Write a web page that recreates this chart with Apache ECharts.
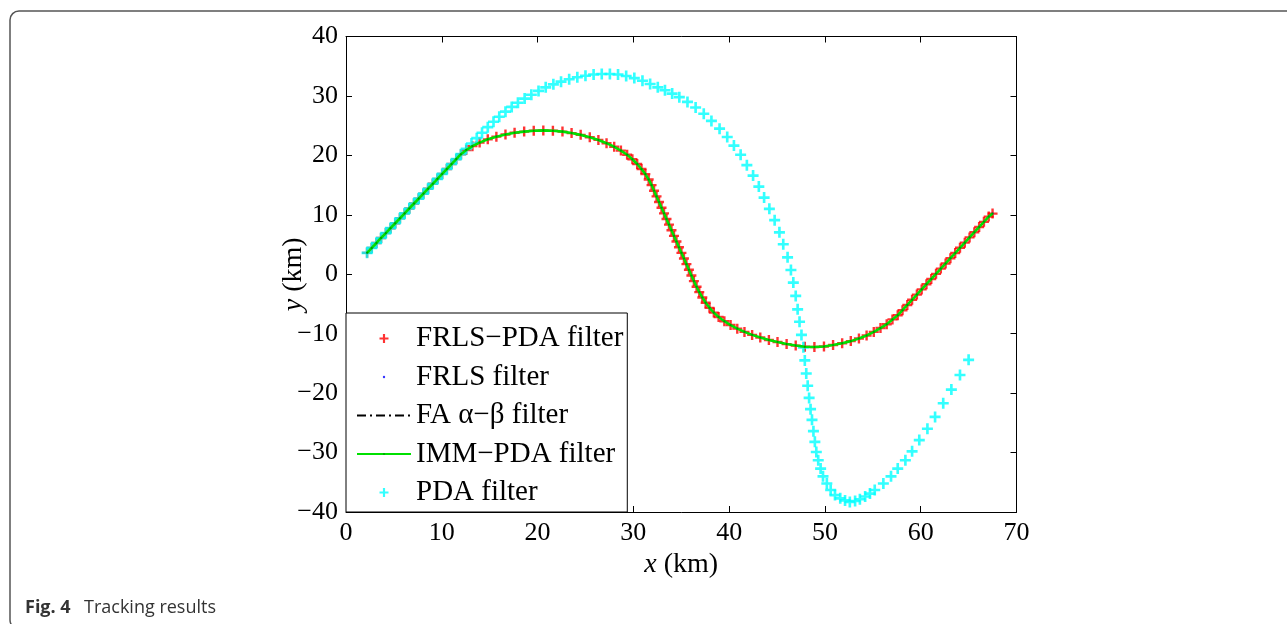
<!DOCTYPE html>
<html><head><meta charset="utf-8">
<script src="https://cdn.jsdelivr.net/npm/echarts@6/dist/echarts.min.js"></script>
<style>html,body{margin:0;padding:0;background:#fff}#c{width:1287px;height:624px}</style>
</head><body><div id="c"></div>
<script>
// ---- data (km) ----
const xTickLabels = ['0','10','20','30','40','50','60','70'];
const yTickLabels = ['\u221240','\u221230','\u221220','\u221210','0','10','20','30','40'];

// common straight leg shared by all estimates
const commonX = [2.2,2.69,3.18,3.66,4.16,4.65,5.14,5.63,6.12,6.61,7.1,7.59,8.08,8.57,9.06,9.55,10.04,10.53,11.02,11.51,12.0];
const commonY = [3.6,4.43,5.26,6.1,6.92,7.75,8.58,9.41,10.24,11.07,11.9,12.73,13.56,14.39,15.22,16.05,16.88,17.71,18.54,19.37,20.2];

// FRLS-PDA / FRLS / FA alpha-beta / IMM-PDA (overlapping) track after x=12
const trackX = [12.55,13.2,13.95,14.8,15.7,16.65,17.6,18.6,19.6,20.6,21.6,22.6,23.55,24.5,25.45,26.35,27.2,28.0,28.7,29.35,29.9,30.4,30.85,31.25,31.6,31.9,32.16,32.42,32.68,32.94,33.2,33.46,33.72,33.98,34.24,34.5,34.76,35.02,35.28,35.54,35.8,36.06,36.32,36.6,36.88,37.2,37.55,37.95,38.4,38.9,39.5,40.15,40.85,41.6,42.4,43.25,44.15,45.05,46.0,46.95,47.9,48.9,49.9,50.85,51.8,52.7,53.55,54.35,55.1,55.8,56.45,57.05,57.6,58.1,58.6,59.1,59.6,60.1,60.6,61.1,61.6,62.1,62.6,63.1,63.6,64.1,64.6,65.1,65.6,66.1,66.6,67.1,67.5];
const trackY = [20.9,21.55,22.15,22.7,23.15,23.5,23.8,24.0,24.15,24.2,24.15,24.0,23.75,23.45,23.05,22.6,22.05,21.45,20.8,20.1,19.35,18.55,17.7,16.85,15.95,15.0,14.05,13.1,12.15,11.2,10.25,9.3,8.35,7.4,6.45,5.5,4.55,3.6,2.65,1.7,0.75,-0.2,-1.15,-2.1,-3.0,-3.9,-4.8,-5.65,-6.45,-7.2,-7.9,-8.55,-9.15,-9.7,-10.2,-10.65,-11.05,-11.4,-11.75,-12.0,-12.2,-12.25,-12.15,-11.9,-11.6,-11.25,-10.8,-10.3,-9.7,-9.05,-8.4,-7.6,-6.9,-6.05,-5.17,-4.3,-3.42,-2.55,-1.67,-0.8,0.07,0.95,1.82,2.7,3.57,4.45,5.32,6.2,7.07,7.95,8.82,9.7,10.2];

// PDA filter after x=12
const pdaX = [12.55,13.1,13.65,14.2,14.8,15.4,16.0,16.65,17.3,17.95,18.65,19.35,20.1,20.85,21.65,22.45,23.3,24.15,25.0,25.85,26.7,27.55,28.4,29.25,30.1,30.95,31.75,32.55,33.3,34.05,34.8,35.65,36.5,37.35,38.15,39.0,39.8,40.5,41.2,41.85,42.5,43.1,43.65,44.2,44.75,45.25,45.65,46.1,46.45,46.7,46.95,47.15,47.35,47.55,47.75,47.9,48.05,48.2,48.35,48.5,48.65,48.8,48.95,49.1,49.3,49.55,49.8,50.2,50.6,51.05,51.6,52.1,52.6,53.15,53.65,54.2,54.7,55.2,56.1,56.9,57.6,58.4,59.1,59.85,60.7,61.5,62.35,63.2,64.1,65.0];
const pdaY = [21.1,22.0,22.9,23.8,24.75,25.65,26.5,27.35,28.15,28.85,29.55,30.2,30.85,31.45,31.95,32.4,32.8,33.15,33.4,33.6,33.7,33.7,33.6,33.35,33.0,32.55,32.0,31.45,30.95,30.4,29.8,29.0,28.05,27.0,25.8,24.5,23.1,21.65,20.1,18.35,16.6,14.75,12.9,11.0,9.1,7.05,5.05,2.85,0.72,-1.4,-3.65,-5.9,-8.0,-10.2,-12.3,-14.5,-16.7,-18.75,-20.8,-22.7,-24.5,-26.4,-28.2,-29.9,-31.3,-32.7,-34.0,-35.2,-36.3,-37.15,-37.7,-38.05,-38.3,-38.15,-37.85,-37.4,-36.9,-36.3,-35.2,-34.0,-32.7,-31.3,-29.8,-27.9,-26.0,-24.0,-21.7,-19.4,-16.95,-14.4];

const seriesNames = ['FRLS\u2212PDA filter','FRLS filter','FA \u03b1\u2212\u03b2 filter','IMM\u2212PDA filter','PDA filter'];

function pairs(xs, ys){ return xs.map((x,i)=>[x, ys[i]]); }
const trackData = pairs(commonX.concat(trackX), commonY.concat(trackY));
const pdaData = pairs(commonX.concat(pdaX), commonY.concat(pdaY));

const serif = '"Liberation Serif","Times New Roman",serif';
const plus = 'path://M3.8,0h2.4v3.8h3.8v2.4h-3.8v3.8h-2.4v-3.8h-3.8v-2.4h3.8z';
const dot = 'path://M0,0M10,10M3.7,5a1.3,1.3 0 1,0 2.6,0a1.3,1.3 0 1,0 -2.6,0z';

const chart = echarts.init(document.getElementById('c'), null, {renderer:'canvas'});
const tickStyle = {color:'#000', width:1};
const labelStyle = {fontFamily: serif, fontSize: 26, color:'#000'};
chart.setOption({
  animation:false,
  backgroundColor:'#fff',
  grid:{left:346, right:270.5, top:36.5, bottom:112},
  xAxis:[{
    type:'value', min:0, max:70, interval:10, position:'bottom',
    axisLine:{show:true, onZero:false, lineStyle:tickStyle},
    axisTick:{show:true, inside:true, length:6, lineStyle:tickStyle},
    splitLine:{show:false},
    axisLabel:Object.assign({margin:8, formatter:(v)=>xTickLabels[Math.round(v/10)]}, labelStyle),
    name:'{i|x} (km)', nameLocation:'middle', nameGap:38,
    nameTextStyle:{fontFamily:serif, fontSize:28, color:'#000', rich:{i:{fontFamily:serif, fontSize:28, fontStyle:'italic', color:'#000'}}}
  },{
    type:'value', min:0, max:70, interval:10, position:'top',
    axisLine:{show:true, onZero:false, lineStyle:tickStyle},
    axisTick:{show:true, inside:true, length:6, lineStyle:tickStyle},
    splitLine:{show:false}, axisLabel:{show:false}
  }],
  yAxis:[{
    type:'value', min:-40, max:40, interval:10, position:'left',
    axisLine:{show:true, onZero:false, lineStyle:tickStyle},
    axisTick:{show:true, inside:true, length:6, lineStyle:tickStyle},
    splitLine:{show:false},
    axisLabel:Object.assign({margin:8, formatter:(v)=>yTickLabels[Math.round((v+40)/10)]}, labelStyle),
    name:'{i|y} (km)', nameLocation:'middle', nameGap:38, nameRotate:90, nameMoveOverlap:false,
    nameTextStyle:{fontFamily:serif, fontSize:28, color:'#000', rich:{i:{fontFamily:serif, fontSize:28, fontStyle:'italic', color:'#000'}}}
  },{
    type:'value', min:-40, max:40, interval:10, position:'right',
    axisLine:{show:true, onZero:false, lineStyle:tickStyle},
    axisTick:{show:true, inside:true, length:6, lineStyle:tickStyle},
    splitLine:{show:false}, axisLabel:{show:false}
  }],
  legend:{
    orient:'vertical', left:346, top:313, padding:[11,4,5,10],
    itemWidth:54, itemHeight:9, itemGap:9.5,
    borderColor:'#000', borderWidth:1, backgroundColor:'#fff',
    textStyle:{fontFamily:serif, fontSize:29, lineHeight:27.5, color:'#000'},
    data:seriesNames
  },
  series:[
    {name:seriesNames[0], type:'scatter', data:trackData, symbol:plus, symbolSize:10, itemStyle:{color:'#ff0000'}},
    {name:seriesNames[1], type:'scatter', data:trackData, symbol:dot, symbolSize:8, itemStyle:{color:'#0000ff'}},
    {name:seriesNames[2], type:'line', data:trackData, symbol:'none', showSymbol:false, lineStyle:{color:'#000', width:1, type:[9,4,2,4]}, itemStyle:{color:'rgba(0,0,0,0)'}},
    {name:seriesNames[3], type:'line', data:trackData, symbol:dot, symbolSize:8, showSymbol:true, lineStyle:{color:'#00e000', width:2.6}, itemStyle:{color:'#009900'}},
    {name:seriesNames[4], type:'scatter', data:pdaData, symbol:plus, symbolSize:11, itemStyle:{color:'#00ffff'}}
  ],
  graphic:[
    {type:'rect', shape:{x:10, y:11, width:1300, height:618, r:9}, style:{fill:'none', stroke:'#555', lineWidth:1.5}, silent:true, z:-1},
    {type:'text', x:25, y:617, style:{text:'Fig. 4', font:'bold 18px "Open Sans", Lato, sans-serif', fill:'#333', textVerticalAlign:'bottom'}},
    {type:'text', x:84, y:617, style:{text:'Tracking results', font:'18px "Open Sans", Lato, sans-serif', fill:'#333', textVerticalAlign:'bottom'}}
  ]
});
</script></body></html>
